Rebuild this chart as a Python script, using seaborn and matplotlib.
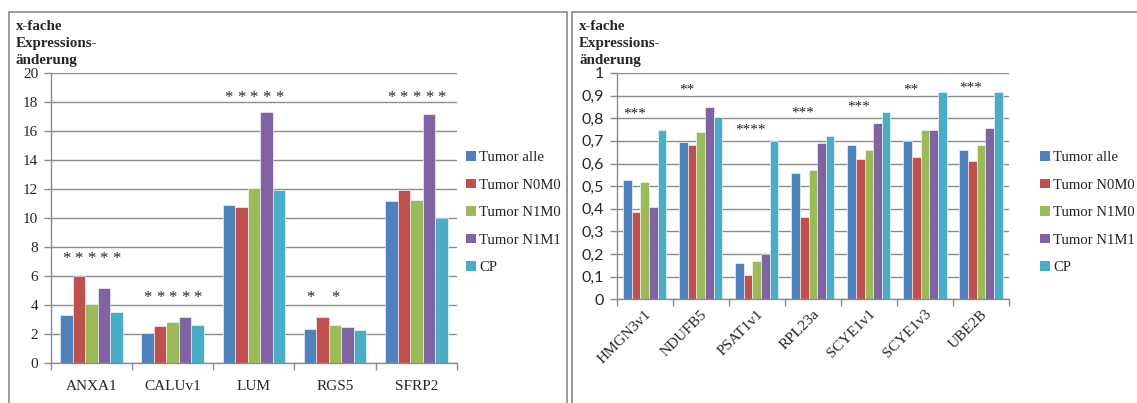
import numpy as np
import pandas as pd
import matplotlib
matplotlib.use("Agg")
import matplotlib.pyplot as plt
from matplotlib.patches import Rectangle
import seaborn as sns

# ---- data -------------------------------------------------------------
groups = ["Tumor alle", "Tumor N0M0", "Tumor N1M0", "Tumor N1M1", "CP"]
colors = ["#4F81BD", "#C0504D", "#9BBB59", "#8064A2", "#4BACC6"]

genes_up = ["ANXA1", "CALUv1", "LUM", "RGS5", "SFRP2"]
up_alle = [3.3, 2.1, 10.9, 2.35, 11.15]
up_n0m0 = [6.0, 2.55, 10.75, 3.2, 11.9]
up_n1m0 = [4.05, 2.8, 12.05, 2.6, 11.25]
up_n1m1 = [5.2, 3.2, 17.3, 2.5, 17.15]
up_cp = [3.55, 2.6, 11.9, 2.25, 10.0]
# significance marks: (height, bars carrying a star)
up_stars_y = [7.2, 4.45, 18.3, 4.45, 18.3]
up_stars_bars = [[0, 1, 2, 3, 4], [0, 1, 2, 3, 4], [0, 1, 2, 3, 4],
                 [0, 2], [0, 1, 2, 3, 4]]

genes_down = ["HMGN3v1", "NDUFB5", "PSAT1v1", "RPL23a", "SCYE1v1",
              "SCYE1v3", "UBE2B"]
down_alle = [0.525, 0.695, 0.16, 0.56, 0.68, 0.70, 0.66]
down_n0m0 = [0.385, 0.68, 0.107, 0.365, 0.62, 0.63, 0.61]
down_n1m0 = [0.52, 0.74, 0.17, 0.57, 0.66, 0.75, 0.68]
down_n1m1 = [0.41, 0.85, 0.20, 0.69, 0.78, 0.75, 0.755]
down_cp = [0.75, 0.805, 0.70, 0.72, 0.828, 0.915, 0.915]
down_stars = ["***", "**", "****", "***", "***", "**", "***"]
down_stars_y = [0.82, 0.925, 0.75, 0.825, 0.85, 0.925, 0.935]

up_ticks = [0, 2, 4, 6, 8, 10, 12, 14, 16, 18, 20]
down_ticks = [0, 0.1, 0.2, 0.3, 0.4, 0.5, 0.6, 0.7, 0.8, 0.9, 1.0]
ylabel_text = "x-fache\nExpressions-\nänderung"


def long_table(genes, series):
    rows = []
    for g, vals in zip(groups, series):
        for gene, v in zip(genes, vals):
            rows.append({"Gen": gene, "Gruppe": g, "Wert": v})
    return pd.DataFrame(rows)


df_up = long_table(genes_up, [up_alle, up_n0m0, up_n1m0, up_n1m1, up_cp])
df_down = long_table(genes_down, [down_alle, down_n0m0, down_n1m0,
                                  down_n1m1, down_cp])

# ---- figure -----------------------------------------------------------
sns.set_theme(style="white")
plt.rcParams["font.family"] = ["Liberation Serif", "DejaVu Serif"]

W, H = 1137, 403
fig = plt.figure(figsize=(W / 100, H / 100), dpi=100)


def fx(px):
    return px / W


def fy(px):
    return 1 - px / H


grid_col = "#8C8C8C"

# panel frames
for x0, x1 in [(8.5, 567), (571.5, 1140)]:
    fig.add_artist(Rectangle((fx(x0), fy(410)), fx(x1 - x0), fy(11.5) - fy(410),
                             transform=fig.transFigure, fill=False,
                             edgecolor="#9A9A9A", linewidth=1.4))

ax1 = fig.add_axes([fx(50.7), fy(363), fx(457 - 50.7), fy(73) - fy(363)])
ax2 = fig.add_axes([fx(616.7), fy(299.3), fx(1009 - 616.7), fy(73) - fy(299.3)])

for ax, df, genes, ticks in [(ax1, df_up, genes_up, up_ticks),
                             (ax2, df_down, genes_down, down_ticks)]:
    sns.barplot(data=df, x="Gen", y="Wert", hue="Gruppe", hue_order=groups,
                order=genes, palette=colors, width=0.77, gap=0,
                edgecolor="white", linewidth=0.4, saturation=1, ax=ax,
                legend=True)
    ax.set_ylim(ticks[0], ticks[-1])
    ax.set_xlim(-0.5, len(genes) - 0.5)
    ax.set_yticks(ticks)
    ax.set_axisbelow(True)
    ax.yaxis.grid(True, color=grid_col, linewidth=1.0)
    ax.xaxis.grid(False)
    for s in ["top", "right"]:
        ax.spines[s].set_visible(False)
    for s in ["left", "bottom"]:
        ax.spines[s].set_color(grid_col)
        ax.spines[s].set_linewidth(1.0)
    ax.set_xlabel("")
    ax.set_ylabel("")
    ax.set_xticks(np.arange(-0.5, len(genes), 1), minor=True)
    ax.tick_params(axis="x", which="major", length=0, pad=12)
    ax.tick_params(axis="x", which="minor", length=5, width=1.0,
                   color=grid_col, direction="out", bottom=True)
    ax.tick_params(axis="y", length=5, width=1.0, color=grid_col,
                   direction="out", pad=4, left=True)

    leg = ax.get_legend()
    if leg is not None:
        leg.remove()

# tick label styling
ax1.set_yticks(up_ticks)
ax1.set_yticklabels([str(t) for t in up_ticks], fontsize=11)
ax1.set_xticks(range(len(genes_up)))
ax1.set_xticklabels(genes_up, fontsize=11)

ax2.set_yticks(down_ticks)
ax2.set_yticklabels(["0" if t == 0 else ("1" if t == 1 else f"{t:.1f}".replace(".", ","))
                     for t in down_ticks], fontsize=11.5, family=["Lato", "DejaVu Sans"])
ax2.set_xticks(range(len(genes_down)))
ax2.set_xticklabels(genes_down, fontsize=11, rotation=45, ha="right",
                    rotation_mode="anchor")
ax2.tick_params(axis="x", which="major", pad=6)

# significance stars, left chart: one star over each marked bar
for i, (ys, bars) in enumerate(zip(up_stars_y, up_stars_bars)):
    for j in bars:
        bar = ax1.containers[j][i]
        ax1.text(bar.get_x() + bar.get_width() / 2, ys, "*", ha="center",
                 va="center", fontsize=12)

# significance stars, right chart: starting at the group's left edge
for i, (s, ys) in enumerate(zip(down_stars, down_stars_y)):
    bar = ax2.containers[0][i]
    ax2.text(bar.get_x(), ys, s, ha="left", va="center", fontsize=11)

# y-axis titles
for x in [16, 579]:
    fig.text(fx(x), fy(20), ylabel_text, ha="left", va="top", fontsize=10.8,
             fontweight="bold", linespacing=1.4)

# legends
handles = [Rectangle((0, 0), 1, 1, facecolor=c, edgecolor="none") for c in colors]
for x in [466, 1040]:
    fig.legend(handles, groups, loc="upper left",
               bbox_to_anchor=(fx(x), fy(151)), bbox_transform=fig.transFigure,
               frameon=False, fontsize=10.6, handlelength=0.65,
               handleheight=0.65, handletextpad=0.25, labelspacing=0.98,
               borderpad=0, borderaxespad=0)

fig.savefig("out.png", dpi=100)
